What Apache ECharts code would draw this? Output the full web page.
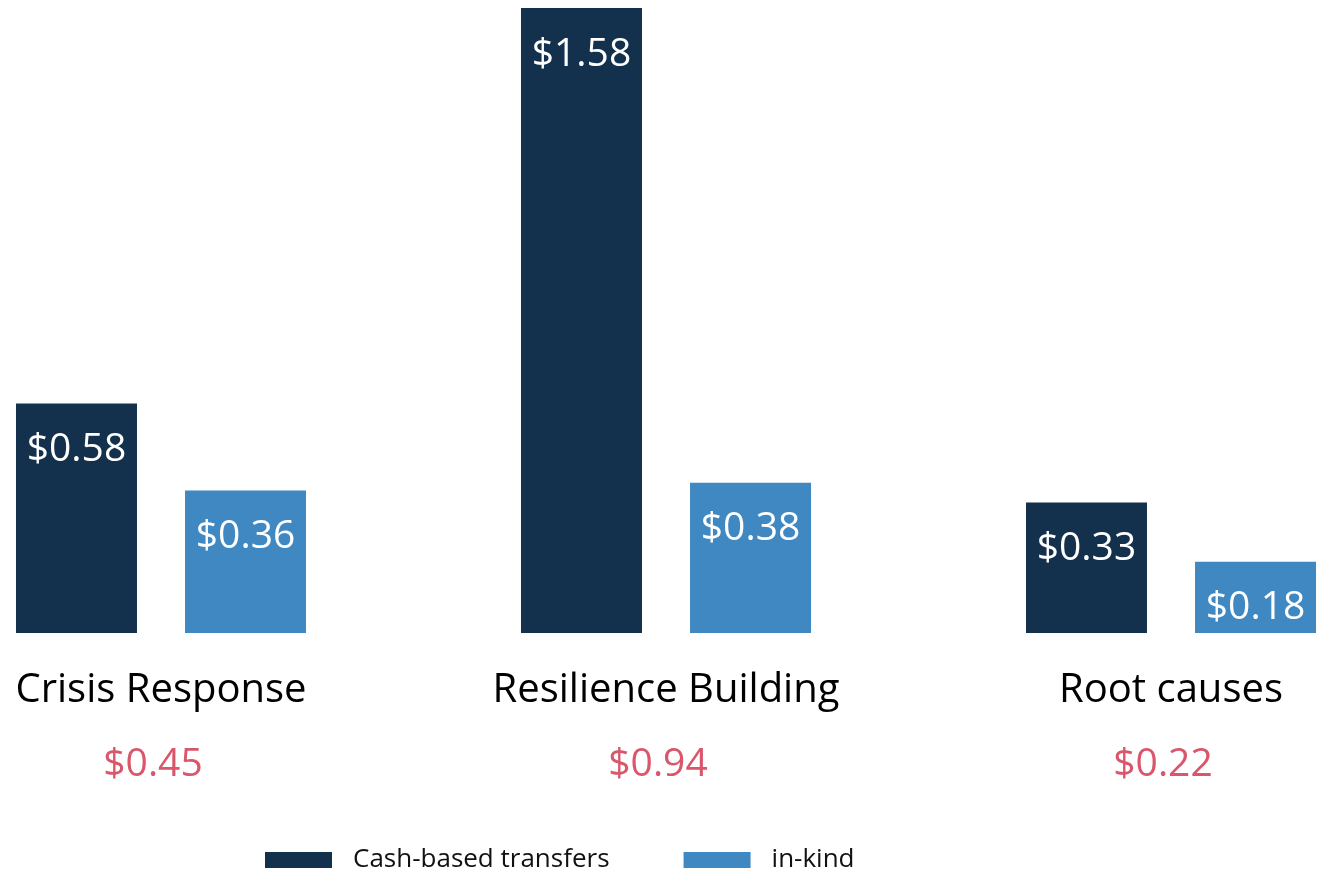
<!DOCTYPE html>
<html>
<head>
<meta charset="utf-8">
<script src="https://cdn.jsdelivr.net/npm/echarts@6/dist/echarts.min.js"></script>
<style>
  html, body { margin: 0; padding: 0; background: #fff; }
  #chart { width: 1320px; height: 884px; }
</style>
</head>
<body>
<div id="chart"></div>
<script>
var categories = ['Crisis Response', 'Resilience Building', 'Root causes'];
var cashValues = [0.58, 1.58, 0.33];
var inKindValues = [0.36, 0.38, 0.18];
var totals = ['$0.45', '$0.94', '$0.22'];

var font = '"Open Sans", "Noto Sans", sans-serif';

var chart = echarts.init(document.getElementById('chart'));

var barLabel = {
  show: true,
  position: 'insideTop',
  distance: 27,
  color: '#fff',
  fontSize: 39,
  fontFamily: font,
  formatter: function (p) {
    return '$' + p.value.toFixed(2);
  }
};

chart.setOption({
  animation: false,
  textStyle: { fontFamily: font },
  grid: {
    outerBoundsMode: 'none',
    left: -91.5,
    width: 1515,
    top: 8,
    bottom: 251
  },
  legend: {
    bottom: 6,
    left: 260,
    itemWidth: 67,
    itemHeight: 16,
    itemGap: 74,
    icon: 'rect',
    textStyle: { fontSize: 26, color: '#111', fontFamily: font, padding: [0, 0, 0, 16] },
    data: ['Cash-based transfers', 'in-kind']
  },
  xAxis: {
    type: 'category',
    data: categories,
    axisLine: { show: false },
    axisTick: { show: false },
    axisLabel: {
      margin: 21,
      interval: 0,
      formatter: function (v, i) {
        return '{name|' + v + '}\n{total|' + totals[i] + '}';
      },
      rich: {
        name: { fontSize: 40, color: '#000', fontFamily: font, lineHeight: 74 },
        total: { fontSize: 39, color: '#d9566b', fontFamily: font, lineHeight: 74, padding: [0, 16, 0, 0] }
      }
    }
  },
  yAxis: {
    type: 'value',
    min: 0,
    max: 1.58,
    show: false,
    splitLine: { show: false }
  },
  series: [
    {
      name: 'Cash-based transfers',
      type: 'bar',
      data: cashValues,
      barWidth: 121,
      barGap: '39.7%',
      itemStyle: { color: '#13304d' },
      label: barLabel
    },
    {
      name: 'in-kind',
      type: 'bar',
      data: inKindValues,
      barWidth: 121,
      itemStyle: { color: '#4088c2' },
      label: barLabel
    }
  ]
});
</script>
</body>
</html>
